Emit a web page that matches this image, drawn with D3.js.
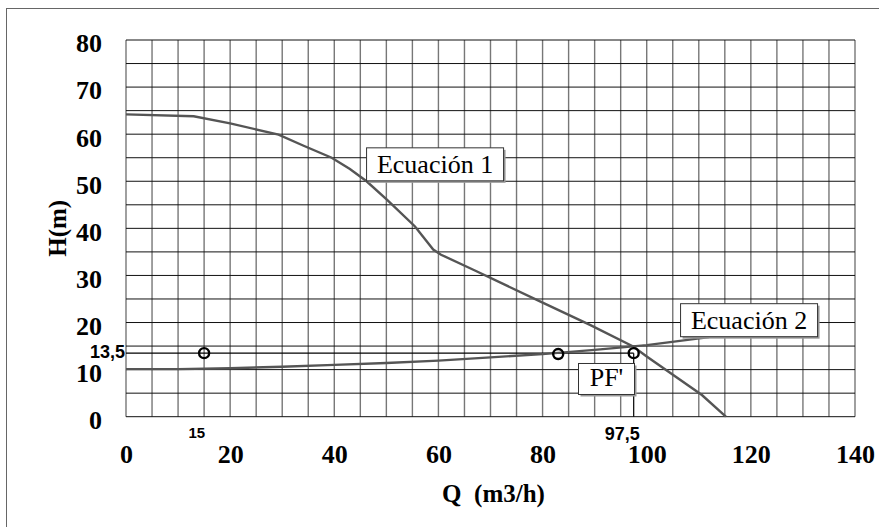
<!DOCTYPE html>
<html>
<head>
<meta charset="utf-8">
<script src="https://cdn.jsdelivr.net/npm/d3@7"></script>
<style>
  html, body { margin: 0; padding: 0; background: #fff; }
  svg { display: block; }
</style>
</head>
<body>
<svg id="chart" width="879" height="527"></svg>
<script>
// Axis ticks
const qTicks = [0, 20, 40, 60, 80, 100, 120, 140];
const hTicks = [0, 10, 20, 30, 40, 50, 60, 70, 80];

// Ecuación 1: pump curve H(Q)
const ec1Q = [0, 13, 20, 29.3, 34, 39.5, 43, 46.2, 50.1, 55.5, 59, 60.5, 66.7, 79.5, 89.1, 97.4, 100, 110.6, 115.2];
const ec1H = [64.2, 63.8, 62.3, 59.9, 57.6, 55, 52.6, 50, 46.1, 40.4, 35.5, 34.4, 31.2, 24.5, 19.5, 14.9, 12.8, 4.6, 0];

// Ecuación 2: system curve H(Q)
const ec2Q = [0, 10, 20, 30, 40, 50, 60, 70, 80, 90, 100, 112];
const ec2H = [10.1, 10.1, 10.3, 10.6, 11.0, 11.4, 11.9, 12.6, 13.3, 14.2, 15.2, 16.9];

// Marked points
const markQ = [15, 83, 97.5];
const markH = [13.5, 13.3, 13.5];

// Operating point PF'
const opQ = 97.5;
const opH = 13.5;

const svg = d3.select("#chart");
const x = d3.scaleLinear().domain([0, 140]).range([126, 855]);
const y = d3.scaleLinear().domain([0, 80]).range([416.7, 40]);

const serif = "'Liberation Serif', 'Times New Roman', serif";
const sans = "'Liberation Sans', Arial, sans-serif";

// Outer frame
svg.append("rect")
  .attr("x", 6.5).attr("y", 8.5)
  .attr("width", 900).attr("height", 600)
  .attr("fill", "none").attr("stroke", "#666").attr("stroke-width", 1);

// Grid: horizontal lines every 5 m, vertical every 5 m3/h
const hGrid = d3.range(0, 80.001, 5);
const qGrid = d3.range(0, 140.001, 5);

svg.append("g").selectAll("line").data(qGrid).join("line")
  .attr("x1", d => x(d)).attr("x2", d => x(d))
  .attr("y1", y(0)).attr("y2", y(80))
  .attr("stroke", "#777").attr("stroke-width", 1.4);

svg.append("g").selectAll("line").data(hGrid).join("line")
  .attr("x1", x(0)).attr("x2", x(140))
  .attr("y1", d => y(d)).attr("y2", d => y(d))
  .attr("stroke", "#111").attr("stroke-width", 1);

// Y axis labels
const yAxis = d3.axisLeft(y).tickValues(hTicks).tickSize(0).tickPadding(0).tickFormat(d3.format("d"));
const gy = svg.append("g").attr("transform", `translate(${x(0) - 24},0)`).call(yAxis);
gy.select(".domain").remove();
gy.selectAll("text")
  .attr("font-family", serif).attr("font-size", 26).attr("font-weight", "bold")
  .attr("fill", "#000").attr("dy", "0.38em").attr("y", 2);

// X axis labels
const xAxis = d3.axisBottom(x).tickValues(qTicks).tickSize(0).tickPadding(0).tickFormat(d3.format("d"));
const gx = svg.append("g").attr("transform", `translate(0,${y(0)})`).call(xAxis);
gx.select(".domain").remove();
gx.selectAll("text")
  .attr("font-family", serif).attr("font-size", 26).attr("font-weight", "bold")
  .attr("fill", "#000").attr("dy", 0).attr("y", 46);

// Axis titles
svg.append("text")
  .attr("transform", `translate(66,${(y(0) + y(80)) / 2}) rotate(-90)`)
  .attr("text-anchor", "middle")
  .attr("font-family", serif).attr("font-size", 25).attr("font-weight", "bold")
  .text("H(m)");

svg.append("text")
  .attr("x", (x(0) + x(140)) / 2 + 3).attr("y", 502)
  .attr("text-anchor", "middle")
  .attr("font-family", serif).attr("font-size", 25).attr("font-weight", "bold")
  .attr("xml:space", "preserve")
  .text("Q  (m3/h)");

// Reference lines to the operating point
svg.append("line")
  .attr("x1", x(0)).attr("x2", x(opQ))
  .attr("y1", y(opH)).attr("y2", y(opH))
  .attr("stroke", "#000").attr("stroke-width", 1.2);
svg.append("line")
  .attr("x1", x(opQ)).attr("x2", x(opQ))
  .attr("y1", y(opH)).attr("y2", y(0))
  .attr("stroke", "#000").attr("stroke-width", 1.2);

// Curves
const line = d3.line().x(d => x(d[0])).y(d => y(d[1]));
svg.append("path")
  .datum(d3.zip(ec2Q, ec2H))
  .attr("d", line)
  .attr("fill", "none").attr("stroke", "#555").attr("stroke-width", 2.4);
svg.append("path")
  .datum(d3.zip(ec1Q, ec1H))
  .attr("d", line)
  .attr("fill", "none").attr("stroke", "#555").attr("stroke-width", 2.4);

// Marked points
svg.append("g").selectAll("circle").data(d3.zip(markQ, markH)).join("circle")
  .attr("cx", d => x(d[0])).attr("cy", d => y(d[1]))
  .attr("r", 5).attr("fill", "none")
  .attr("stroke", "#000").attr("stroke-width", 2.4);

// Small value labels
svg.append("text")
  .attr("x", x(0) - 1).attr("y", y(opH) + 5)
  .attr("text-anchor", "end")
  .attr("font-family", sans).attr("font-size", 18).attr("font-weight", "bold")
  .text("13,5");
svg.append("text")
  .attr("x", x(markQ[0]) + 1).attr("y", 438)
  .attr("text-anchor", "end")
  .attr("font-family", sans).attr("font-size", 15).attr("font-weight", "bold")
  .text("15");
svg.append("text")
  .attr("x", x(opQ) + 6).attr("y", 440)
  .attr("text-anchor", "end")
  .attr("font-family", sans).attr("font-size", 18).attr("font-weight", "bold")
  .text("97,5");

// Boxed annotations (placed in data coordinates)
function boxLabel(q, h, w, hgt, txt, weight) {
  const bx = x(q), by = y(h);
  svg.append("rect")
    .attr("x", bx + 2).attr("y", by + 2).attr("width", w).attr("height", hgt)
    .attr("fill", "#999");
  svg.append("rect")
    .attr("x", bx).attr("y", by).attr("width", w).attr("height", hgt)
    .attr("fill", "#fff").attr("stroke", "#333").attr("stroke-width", 1);
  svg.append("text")
    .attr("x", bx + w / 2).attr("y", by + hgt - 8)
    .attr("text-anchor", "middle")
    .attr("font-family", serif).attr("font-size", 26).attr("font-weight", weight)
    .text(txt);
}
boxLabel(46.2, 57.1, 137, 33, "Ecuación 1", "normal");
boxLabel(106.5, 24.0, 137, 33, "Ecuación 2", "normal");
boxLabel(86.9, 11.3, 56, 31, "PF'", "normal");
</script>
</body>
</html>
